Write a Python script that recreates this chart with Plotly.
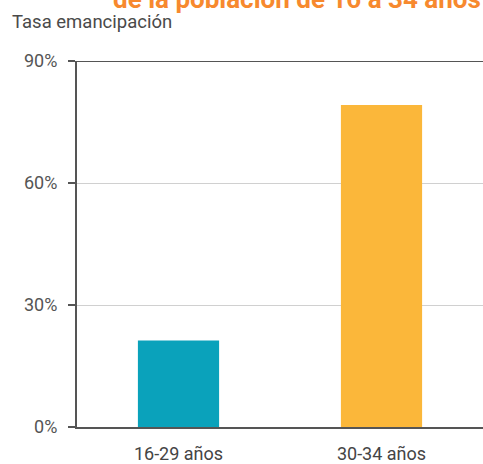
import plotly.graph_objects as go

categories = ["16-29 años", "30-34 años"]
values = [21.3, 79.2]
colors = ["#0AA2BB", "#FBB73A"]
y_ticks = [0, 30, 60, 90]
y_tick_labels = ["0%", "30%", "60%", "90%"]

fig = go.Figure(go.Bar(x=categories, y=values, marker=dict(color=colors, line=dict(width=0)),
                       width=0.4, hoverinfo="skip"))

fig.update_layout(
    width=483, height=464,
    margin=dict(l=77, r=0, t=61, b=35),
    paper_bgcolor="white", plot_bgcolor="white",
    font=dict(family="Roboto, sans-serif", color="#555555", size=17),
    showlegend=False,
)
fig.update_xaxes(showline=True, linecolor="#555555", linewidth=2, showgrid=False,
                 ticks="", tickfont=dict(size=18, color="#444444"), ticklabelstandoff=9,
                 fixedrange=True)
fig.update_yaxes(range=[0, 90], tickvals=y_ticks, ticktext=y_tick_labels,
                 showline=True, linecolor="#555555", linewidth=2,
                 showgrid=True, gridcolor="#d0d0d0", gridwidth=1,
                 ticks="outside", ticklen=7, tickcolor="#555555", tickwidth=1.5,
                 ticklabelstandoff=7,
                 tickfont=dict(size=18, color="#555555"), zeroline=False, fixedrange=True)

fig.add_shape(type="line", xref="paper", yref="y", x0=0, x1=1, y0=90, y1=90,
              line=dict(color="#555555", width=2))

fig.add_annotation(text="Tasa emancipación", xref="paper", yref="paper",
                   x=-77/406 + 10/406, y=(429 - 22) / 368, xanchor="left", yanchor="middle",
                   showarrow=False, font=dict(size=18.5, color="#4a4a4a"))
fig.add_annotation(text="<b>de la población de 16 a 34 años</b>", xref="paper", yref="paper",
                   x=1.0, y=(429 + 1.5) / 368, xanchor="right", yanchor="middle",
                   showarrow=False, font=dict(size=26, color="#F7892E"))

fig.write_html("out.html", config={"displayModeBar": False},
               post_script="document.body.style.margin='0';document.body.style.overflow='hidden';")
